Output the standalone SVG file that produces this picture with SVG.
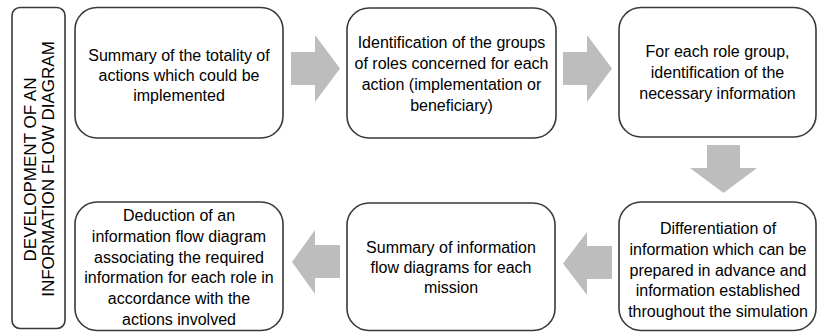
<svg xmlns="http://www.w3.org/2000/svg" width="818" height="332" viewBox="0 0 818 332">
<style>
.box{fill:#fff;stroke:#3a3a3a;stroke-width:1.6}
.t{font-family:"Liberation Sans",Arial,sans-serif;font-size:16px;fill:#000;text-anchor:middle}
.side{font-family:"Liberation Sans",Arial,sans-serif;font-size:17px;fill:#000;text-anchor:middle}
.arrow{fill:#bdbdbd}
</style>
<rect width="818" height="332" fill="#fff"/>
<g id="side">
<rect class="box" x="12" y="7.5" width="53" height="321" rx="8"/>
<text class="side" transform="translate(36,169.5) rotate(-90)">DEVELOPMENT OF AN</text>
<text class="side" transform="translate(53.5,169) rotate(-90)">INFORMATION FLOW DIAGRAM</text>
</g>
<g id="connectors">
<polygon class="arrow" points="291,52 315,52 315,35 340,68.5 315,102 315,85 291,85"/>
<polygon class="arrow" points="563,52 587,52 587,35 612,68.5 587,102 587,85 563,85"/>
<polygon class="arrow" points="707,145 740,145 740,168 757,168 723.5,193 690,168 707,168"/>
<polygon class="arrow" points="612,246 587,246 587,232 563,263.5 587,295 587,279 612,279"/>
<polygon class="arrow" points="340,245 315,245 315,230 292,262 315,294 315,278 340,278"/>
</g>
<g id="n1">
<rect class="box" x="75" y="7.5" width="208" height="130.5" rx="22"/>
<text class="t" x="179" y="61">Summary of the totality of</text>
<text class="t" x="179" y="81">actions which could be</text>
<text class="t" x="179" y="101">implemented</text>
</g>
<g id="n2">
<rect class="box" x="347" y="8" width="209" height="130" rx="22"/>
<text class="t" x="451.5" y="48">Identification of the groups</text>
<text class="t" x="451.5" y="69">of roles concerned for each</text>
<text class="t" x="451.5" y="90">action (implementation or</text>
<text class="t" x="451.5" y="111">beneficiary)</text>
</g>
<g id="n3">
<rect class="box" x="619" y="7.5" width="197" height="129.5" rx="22"/>
<text class="t" x="717.5" y="57">For each role group,</text>
<text class="t" x="717.5" y="78">identification of the</text>
<text class="t" x="717.5" y="99">necessary information</text>
</g>
<g id="n4">
<rect class="box" x="619" y="202" width="197" height="128.5" rx="22"/>
<text class="t" x="718" y="234">Differentiation of</text>
<text class="t" x="718" y="255">information which can be</text>
<text class="t" x="718" y="275.5">prepared in advance and</text>
<text class="t" x="718" y="296">information established</text>
<text class="t" x="718" y="317">throughout the simulation</text>
</g>
<g id="n5">
<rect class="box" x="347" y="203" width="208" height="127.5" rx="22"/>
<text class="t" x="451" y="253">Summary of information</text>
<text class="t" x="451" y="273">flow diagrams for each</text>
<text class="t" x="451" y="293">mission</text>
</g>
<g id="n6">
<rect class="box" x="75" y="202" width="208" height="128.5" rx="22"/>
<text class="t" x="179" y="221">Deduction of an</text>
<text class="t" x="179" y="242">information flow diagram</text>
<text class="t" x="179" y="262.5">associating the required</text>
<text class="t" x="179" y="283">information for each role in</text>
<text class="t" x="179" y="304">accordance with the</text>
<text class="t" x="179" y="325">actions involved</text>
</g>
</svg>
